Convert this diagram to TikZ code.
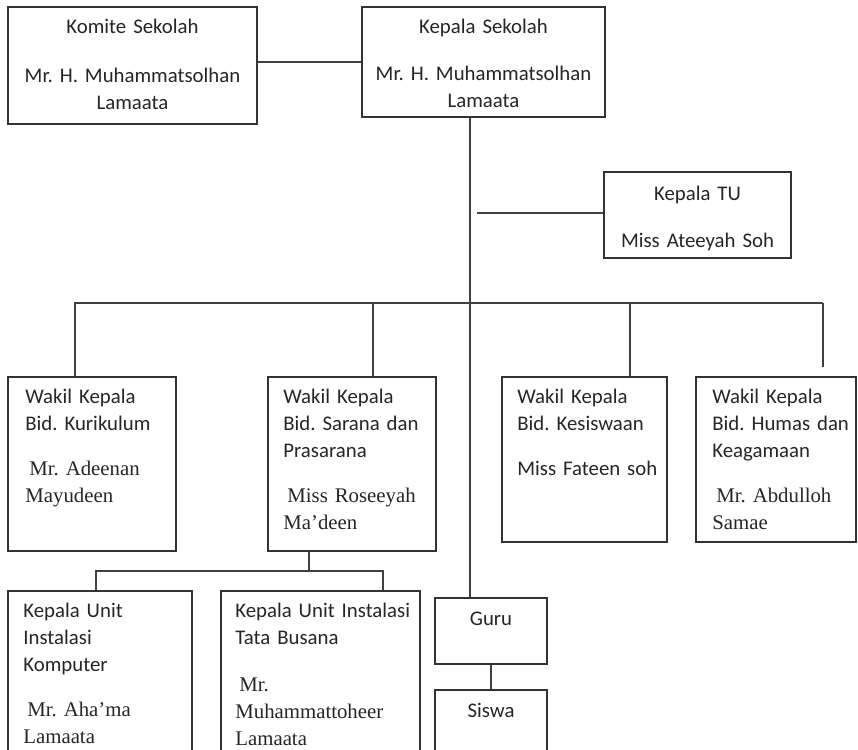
\documentclass[tikz,border=0pt]{standalone}
\usepackage{fontspec}
\setmainfont{Liberation Serif}
\newfontfamily\calfont{Carlito}
\usetikzlibrary{%
  fit,% wg. box around corners
  positioning%
}

\tikzset{
  box/.style={draw=black!80, line width=0.8pt, inner sep=0pt},
  link/.style={draw=black!75, line width=0.8pt},
  ltext/.style={anchor=base west, inner sep=0pt, text width=95pt, align=left,
    text=black!85, font=\fontsize{10.4}{13.5}\selectfont},
  ctext/.style={anchor=base, inner sep=0pt, text width=125pt, align=center,
    text=black!85, font=\fontsize{10.4}{13.5}\selectfont\calfont}
}

\begin{document}
\frenchspacing
\begin{tikzpicture}[x=0.5pt, y=-0.5pt]

\clip (0,0) rectangle (858,750);
\fill[white] (0,0) rectangle (858,750);

% top row
\node[box, fit={(8,7) (257,124)}] (komite) {};
\node[box, fit={(362,7) (605,117)}] (kepala) {};
\node[box, fit={(604,172) (791,258)}] (tu) {};

\node[ctext] (komitetxt) at (132.5,33)
  {Komite Sekolah\\[11pt] Mr. H. Muhammatsolhan\\ Lamaata};
\node[ctext] (kepalatxt) at (483.5,33)
  {Kepala Sekolah\\[10pt] Mr. H. Muhammatsolhan\\ Lamaata};
\node[ctext] (tutxt) at (697.5,200)
  {Kepala TU\\[10pt] Miss Ateeyah Soh};

% wakil kepala
\node[box, fit={(8,377) (176,551)}] (kurikulum) {};
\node[box, fit={(268,377) (436,551)}] (sarana) {};
\node[box, fit={(502,377) (667,542)}] (kesiswaan) {};
\node[box, fit={(696,377) (856,542)}] (humas) {};

\node[ltext] (kurikulumtxt) at (25,403)
  {\calfont Wakil Kepala\\ Bid. Kurikulum\\[9pt]
   \rmfamily\hspace*{2pt}Mr. Adeenan\\ Mayudeen};
\node[ltext] (saranatxt) at (283,403)
  {\calfont Wakil Kepala\\ Bid. Sarana dan\\ Prasarana\\[9pt]
   \rmfamily\hspace*{2pt}Miss Roseeyah\\ Ma'deen};
\node[ltext] (kesiswaantxt) at (517,403)
  {\calfont Wakil Kepala\\ Bid. Kesiswaan\\[9pt] Miss Fateen soh};
\node[ltext] (humastxt) at (712,403)
  {\calfont Wakil Kepala\\ Bid. Humas dan\\ Keagamaan\\[9pt]
   \rmfamily\hspace*{2pt}Mr. Abdulloh\\ Samae};

% unit instalasi, guru, siswa
\node[box, fit={(8,591) (192,790)}] (komputer) {};
\node[box, fit={(221,591) (420,790)}] (busana) {};
\node[box, fit={(435,598) (547,664)}] (guru) {};
\node[box, fit={(435,690) (547,790)}] (siswa) {};

\node[ltext] (komputertxt) at (23,617)
  {\calfont Kepala Unit\\ Instalasi\\ Komputer\\[9pt]
   \rmfamily\hspace*{2pt}Mr. Aha'ma\\ Lamaata};
\node[ltext] (busanatxt) at (235,617)
  {\calfont Kepala Unit Instalasi\\ Tata Busana\\[10pt]
   \rmfamily\hspace*{2pt}Mr.\\ Muhammattoheer\\ Lamaata};
\node[ctext] (gurutxt) at (491,625) {Guru};
\node[ctext] (siswatxt) at (491,717) {Siswa};

% connectors
\coordinate (trunk) at (470,303);
\coordinate (tuend) at (477,213);
\coordinate (bk) at (75,303);
\coordinate (bs) at (373,303);
\coordinate (bw) at (630,303);
\coordinate (bh) at (823,303);
\coordinate (sk) at (96,571);
\coordinate (ss) at (309,571);
\coordinate (sb) at (383,571);

\draw[link] (kepala.west -| komite.east) -- (kepala.west);
\draw[link] (kepala.south -| trunk) -- (guru.north -| trunk);
\draw[link] (tuend) -- (tu.west |- tuend);

\draw[link] (bk |- kurikulum.north) -- (bk) -- (bh);
\draw[link] (bs) -- (bs |- sarana.north);
\draw[link] (bw) -- (bw |- kesiswaan.north);
\draw[link, shorten >=4.5pt] (bh) -- (bh |- humas.north);

\draw[link] (sarana.south -| ss) -- (ss);
\draw[link] (sk |- komputer.north) -- (sk) -- (sb) -- (sb |- busana.north);

\draw[link] (guru.south) -- (siswa.north);
\end{tikzpicture}
\end{document}
